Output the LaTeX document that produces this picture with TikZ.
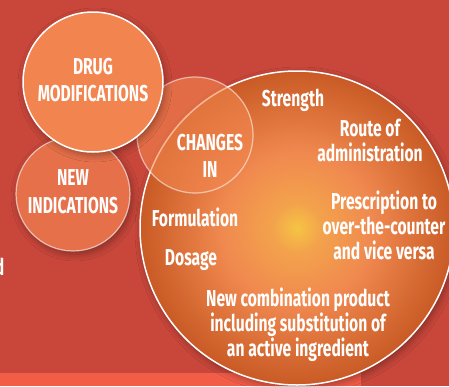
\documentclass[tikz,border=0pt]{standalone}
\usepackage{fontspec}
\setmainfont{Fira Sans}[FakeStretch=0.68]
\usetikzlibrary{shadows.blur}

\definecolor{bgred}{HTML}{C8463A}
\definecolor{stripred}{HTML}{F25D48}
\definecolor{drugfill}{HTML}{F2854F}
\definecolor{indfill}{HTML}{E6704A}
\definecolor{chgfill}{HTML}{F2864E}
\definecolor{glowcore}{HTML}{F6C443}
\definecolor{glowwarm}{HTML}{F3A24C}
\definecolor{glowmid}{HTML}{F0894F}
\definecolor{glowedge}{HTML}{C95A25}

% radial glow: yellow core fading through orange to a dark rim
\pgfdeclareradialshading{glow}{\pgfpoint{0bp}{0bp}}{%
  color(0bp)=(glowcore); color(4bp)=(glowwarm); color(12bp)=(glowmid);
  color(25bp)=(glowedge); color(50bp)=(glowedge)}

\tikzset{
  bubble/.style={circle, inner sep=0pt, outer sep=0pt},
  softshadow/.style={blur shadow={shadow xshift=2pt, shadow yshift=-3pt,
      shadow blur radius=7pt, shadow opacity=35}},
  label/.style={text=white, font=\bfseries\fontsize{23}{25}\selectfont,
      align=center, inner sep=0pt},
  caps/.style={label, font=\bfseries\fontsize{23}{27.5}\selectfont},
}

\begin{document}
\begin{tikzpicture}[x=1pt, y=-1pt]
  \useasboundingbox (0,0) rectangle (449,386);
  \clip (0,0) rectangle (449,386);

  % backdrop and lower band
  \fill[bgred] (0,0) rectangle (449,386);
  \fill[stripred] (0,373) rectangle (361,386);

  % large circle with radial glow
  \node[bubble, minimum size=314pt, shade, shading=glow, draw=white,
        line width=1.5pt, softshadow] (big) at (297,228) {};

  % translucent overlapping circle
  \node[bubble, minimum size=116pt, fill=chgfill, fill opacity=0.6,
        draw=white, draw opacity=0.55, line width=1.2pt] (chg) at (195,135) {};

  % side circles
  \node[bubble, minimum size=114pt, fill=indfill, draw=white, draw opacity=0.6,
        line width=1.2pt, softshadow] (ind) at (73,194) {};
  \node[bubble, minimum size=140pt, fill=drugfill, draw=white,
        line width=1.5pt, softshadow] (drug) at (93,82) {};

  % circle titles
  \node[caps] (tdrug) at (93,80) {DRUG\\MODIFICATIONS};
  \node[caps] (tind) at (73,191.5) {NEW\\INDICATIONS};
  \node[caps] (tchg) at (210,156) {CHANGES\\IN};

  % items inside the large circle
  \node[label] (strength) at (293,100) {Strength};
  \node[label] (route) at (370,140) {Route of\\administration};
  \node[label] (otc) at (384,225.5) {Prescription to\\over-the-counter\\and vice versa};
  \node[label] (form) at (195,217) {Formulation};
  \node[label] (dose) at (191,260) {Dosage};
  \node[label] (combo) at (298,325) {New combination product\\including substitution of\\an active ingredient};

  % text running in from the left margin
  \node[label, anchor=base east] (tail) at (4.5,275) {d};
\end{tikzpicture}
\end{document}
